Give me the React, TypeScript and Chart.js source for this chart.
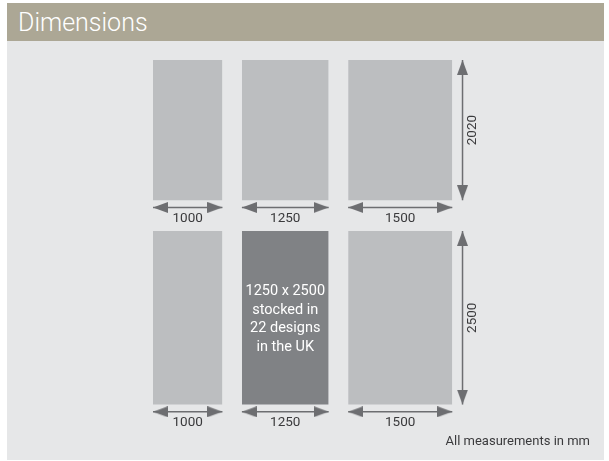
import React, { useEffect, useRef } from 'react';
import { Chart, registerables } from 'chart.js';

Chart.register(...registerables);

// ---------- data ----------
const title = 'Dimensions';
const sheetWidths = [1000, 1250, 1500]; // mm
const sheetHeights = [2020, 2500]; // mm
const widthLabels = ['1000', '1250', '1500'];
const heightLabels = ['2020', '2500'];
const stockedRow = 1;
const stockedCol = 1;
const stockedLines = ['1250 x 2500', 'stocked in', '22 designs', 'in the UK'];
const note = 'All measurements in mm';

// ---------- layout / style ----------
const W = 597;
const H = 419;
const PX_PER_MM = 0.0694;
const ORIGIN_X = 146;
const ORIGIN_Y = 19;
const COL_GAP = 281; // mm
const ROW_GAP = 444; // mm
const H_ARROW_OFFSET = 105; // mm below sheet
const V_ARROW_OFFSET = 148; // mm right of last sheet

const COLORS = {
  header: '#ACA795',
  panel: '#E6E7E8',
  sheet: '#BCBEC0',
  stocked: '#808285',
  arrow: '#6D6E71',
  text: '#3A3A3C',
};

const colX: number[] = sheetWidths.map((_, i) =>
  sheetWidths.slice(0, i).reduce((a, b) => a + b, 0) + i * COL_GAP
);
const rowY: number[] = sheetHeights.map((_, i) =>
  sheetHeights.slice(0, i).reduce((a, b) => a + b, 0) + i * ROW_GAP
);
const lastCol = sheetWidths.length - 1;
const rightEdge = colX[lastCol] + sheetWidths[lastCol];

function makeArrowHead(): HTMLCanvasElement {
  const L = 15;
  const Wd = 11;
  const c = document.createElement('canvas');
  c.width = L * 2;
  c.height = Wd;
  const g = c.getContext('2d')!;
  g.fillStyle = COLORS.arrow;
  g.beginPath();
  g.moveTo(L, Wd / 2);
  g.lineTo(L * 2, 0);
  g.lineTo(L * 2, Wd);
  g.closePath();
  g.fill();
  return c;
}

const labelPlugin = {
  id: 'dimLabels',
  afterDatasetsDraw(chart: any) {
    const { ctx, scales, chartArea } = chart;
    const x = scales.x;
    const y = scales.y;
    ctx.save();
    ctx.fillStyle = COLORS.text;
    ctx.font = '13.5px Roboto';
    ctx.textAlign = 'center';
    ctx.textBaseline = 'middle';
    sheetHeights.forEach((h, r) => {
      sheetWidths.forEach((w, c) => {
        const cx = x.getPixelForValue(colX[c] + w / 2);
        const ay = y.getPixelForValue(rowY[r] + h + H_ARROW_OFFSET);
        ctx.fillText(widthLabels[c], cx, ay + 11);
      });
      const ax = x.getPixelForValue(rightEdge + V_ARROW_OFFSET);
      const cy = y.getPixelForValue(rowY[r] + h / 2);
      ctx.save();
      ctx.translate(ax + 10, cy);
      ctx.rotate(-Math.PI / 2);
      ctx.fillText(heightLabels[r], 0, 0);
      ctx.restore();
    });

    // stocked sheet text
    const sx = x.getPixelForValue(colX[stockedCol] + sheetWidths[stockedCol] / 2);
    const sy = y.getPixelForValue(rowY[stockedRow] + sheetHeights[stockedRow] / 2);
    ctx.fillStyle = '#FFFFFF';
    ctx.font = '14.5px Roboto';
    const lh = 18.6;
    stockedLines.forEach((line, i) => {
      ctx.fillText(line, sx, sy + 1.5 + (i - (stockedLines.length - 1) / 2) * lh);
    });

    // note
    ctx.fillStyle = COLORS.text;
    ctx.font = '13px Roboto';
    ctx.textAlign = 'right';
    ctx.fillText(note, chartArea.right - 14, chartArea.bottom - 18);
    ctx.restore();
  },
};

export default function App() {
  const ref = useRef<HTMLCanvasElement | null>(null);

  useEffect(() => {
    if (!ref.current) return;
    const head = makeArrowHead();
    const datasets: any[] = [];

    sheetHeights.forEach((h, r) => {
      sheetWidths.forEach((w, c) => {
        const stocked = r === stockedRow && c === stockedCol;
        datasets.push({
          data: [
            { x: colX[c], y: rowY[r] },
            { x: colX[c] + w, y: rowY[r] },
          ],
          showLine: true,
          borderColor: 'rgba(0,0,0,0)',
          borderWidth: 0,
          backgroundColor: stocked ? COLORS.stocked : COLORS.sheet,
          fill: { value: rowY[r] + h },
          pointRadius: 0,
        });
      });
    });

    sheetHeights.forEach((h, r) => {
      sheetWidths.forEach((w, c) => {
        const ay = rowY[r] + h + H_ARROW_OFFSET;
        datasets.push({
          data: [
            { x: colX[c], y: ay },
            { x: colX[c] + w, y: ay },
          ],
          showLine: true,
          borderColor: COLORS.arrow,
          borderWidth: 1.5,
          fill: false,
          pointStyle: head,
          pointRadius: 1,
          pointBorderWidth: 0,
          pointRotation: [0, 180],
        });
      });
      const ax = rightEdge + V_ARROW_OFFSET;
      datasets.push({
        data: [
          { x: ax, y: rowY[r] },
          { x: ax, y: rowY[r] + h },
        ],
        showLine: true,
        borderColor: COLORS.arrow,
        borderWidth: 1.5,
        fill: false,
        pointStyle: head,
        pointRadius: 1,
        pointBorderWidth: 0,
        pointRotation: [90, -90],
      });
    });

    const chart = new Chart(ref.current, {
      type: 'scatter',
      data: { datasets },
      options: {
        animation: false,
        responsive: false,
        events: [],
        layout: { padding: 0, autoPadding: false },
        plugins: {
          legend: { display: false },
          tooltip: { enabled: false },
          title: { display: false },
        },
        scales: {
          x: {
            type: 'linear',
            display: false,
            min: -ORIGIN_X / PX_PER_MM,
            max: (W - ORIGIN_X) / PX_PER_MM,
          },
          y: {
            type: 'linear',
            display: false,
            reverse: true,
            min: -ORIGIN_Y / PX_PER_MM,
            max: (H - ORIGIN_Y) / PX_PER_MM,
          },
        },
      } as any,
      plugins: [labelPlugin],
    });
    return () => chart.destroy();
  }, []);

  return (
    <div style={{ position: 'absolute', left: 7, top: 3, width: W }}>
      <div
        style={{
          height: 38,
          background: COLORS.header,
          color: '#FFFFFF',
          font: '300 25px Roboto',
          lineHeight: '40px',
          paddingLeft: 11,
          boxSizing: 'border-box',
        }}
      >
        {title}
      </div>
      <div style={{ width: W, height: H, background: COLORS.panel }}>
        <canvas ref={ref} width={W} height={H} style={{ display: 'block' }} />
      </div>
    </div>
  );
}
